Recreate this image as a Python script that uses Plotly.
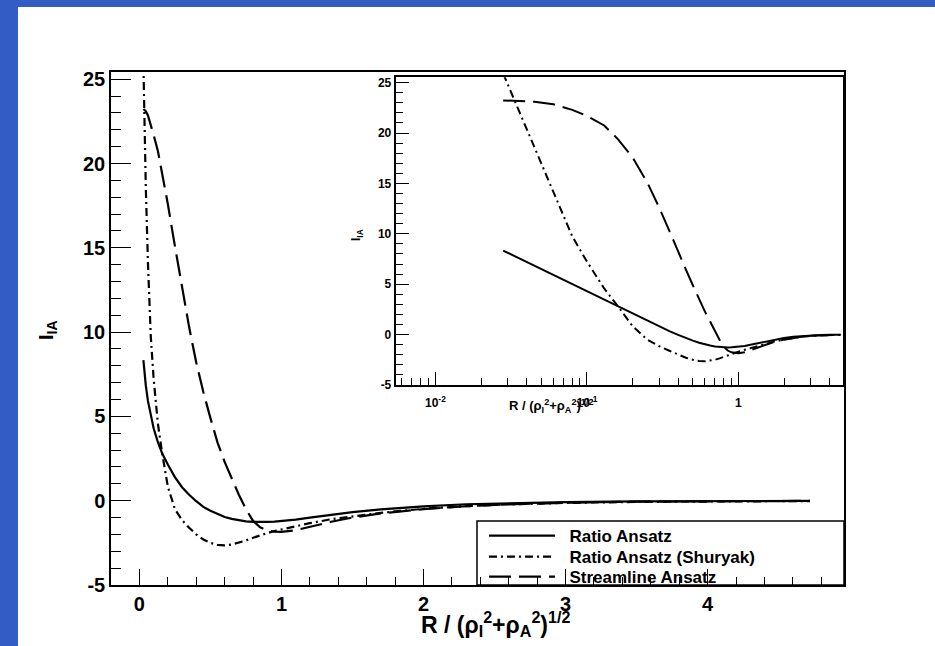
import plotly.graph_objects as go

# ---- data ----
r_vals = [0.028, 0.035, 0.045, 0.06, 0.08, 0.1, 0.13, 0.16, 0.2, 0.25, 0.3, 0.35, 0.4, 0.45,
          0.5, 0.55, 0.6, 0.65, 0.7, 0.75, 0.8, 0.85, 0.9, 0.95, 1.0, 1.1, 1.2, 1.35, 1.5,
          1.7, 2.0, 2.3, 2.6, 3.0, 3.5, 4.0, 4.72]
ratio_ansatz = [8.34, 7.63, 6.84, 5.92, 5.01, 4.30, 3.47, 2.81, 2.15, 1.40, 0.80, 0.35, -0.03, -0.37,
                -0.60, -0.80, -0.97, -1.08, -1.17, -1.23, -1.26, -1.27, -1.26, -1.24, -1.21, -1.12, -1.00, -0.84, -0.68,
                -0.52, -0.34, -0.21, -0.14, -0.08, -0.04, -0.02, -0.01]
ratio_shuryak = [25.9, 22.45, 18.6, 14.15, 9.75, 7.25, 4.58, 2.82, 0.84, -0.5, -1.15, -1.6, -2.0, -2.3,
                 -2.5, -2.62, -2.65, -2.6, -2.5, -2.36, -2.2, -2.05, -1.92, -1.8, -1.7, -1.5, -1.33, -1.1, -0.92,
                 -0.72, -0.48, -0.32, -0.22, -0.13, -0.07, -0.04, -0.02]
streamline = [23.24, 23.2, 23.1, 22.85, 22.3, 21.7, 20.75, 19.4, 17.6, 15.1, 12.6, 10.3, 8.2, 6.45,
              4.9, 3.45, 2.3, 1.3, 0.35, -0.5, -1.2, -1.58, -1.76, -1.84, -1.85, -1.75, -1.55, -1.25, -1.0,
              -0.75, -0.5, -0.33, -0.22, -0.12, -0.06, -0.03, -0.01]

series_names = ["Ratio Ansatz", "Ratio Ansatz (Shuryak)", "Streamline Ansatz"]
x_ticks = [0, 1, 2, 3, 4]
y_ticks = [-5, 0, 5, 10, 15, 20, 25]
log_ticks = [0.01, 0.1, 1]
log_tick_text = ["10<sup>-2</sup>", "10<sup>-1</sup>", "1"]

FONT = "Liberation Sans"
BLUE = "rgb(51,93,197)"
dashes = ["solid", "8px,4px,2px,4px", "22px,8px"]
series = [ratio_ansatz, ratio_shuryak, streamline]
legend_ids = ["legend", "legend2", "legend3"]

W, H = 935, 646
L, R, T, B = 111, 91, 72, 61
PW, PH = W - L - R, H - T - B

def px(x):
    return (x - L) / PW

def py(y):
    return (H - B - y) / PH

fig = go.Figure()
for name, ys, d, lg in zip(series_names, series, dashes, legend_ids):
    fig.add_trace(go.Scatter(x=r_vals, y=ys, mode="lines", name="\u00a0\u00a0" + name,
                             line=dict(color="black", width=2.2, dash=d),
                             xaxis="x", yaxis="y", showlegend=True, legend=lg))
for name, ys, d in zip(series_names, series, dashes):
    fig.add_trace(go.Scatter(x=r_vals, y=ys, mode="lines", name=name,
                             line=dict(color="black", width=2.0, dash=d),
                             xaxis="x2", yaxis="y2", showlegend=False))

tickfont_main = dict(family=FONT, size=20, color="black", weight="bold")
tickfont_in = dict(family=FONT, size=12, color="black", weight="bold")

x_minor = [round(-0.2 + 0.2 * i, 3) for i in range(26) if abs((-0.2 + 0.2 * i) - round(-0.2 + 0.2 * i)) > 1e-6]
y_minor = [v for v in range(-5, 26) if v % 5 != 0]
log_minor = [k * 10 ** e for e in (-3, -2, -1, 0) for k in range(2, 10) if 0.0055 <= k * 10 ** e <= 4.9]

def legend_at(ytop):
    return dict(x=px(484), y=py(ytop), xanchor="left", yanchor="top",
                bgcolor="rgba(0,0,0,0)", borderwidth=0, maxheight=80,
                font=dict(family=FONT, size=17, color="black", weight="bold"),
                itemwidth=66)

fig.update_layout(
    width=W, height=H,
    margin=dict(l=L, r=R, t=T, b=B, pad=0),
    paper_bgcolor=BLUE, plot_bgcolor="white",
    xaxis=dict(domain=[0, 1], range=[-0.2, 4.96], showgrid=False, zeroline=False,
               showline=True, linecolor="black", linewidth=1.5, mirror=True,
               tickmode="array", tickvals=x_ticks, ticktext=[str(v) for v in x_ticks],
               ticks="inside", ticklen=16, tickwidth=1.3, tickcolor="black",
               tickfont=tickfont_main,
               minor=dict(tickmode="array", tickvals=x_minor, ticks="inside", ticklen=8,
                          tickwidth=1.3, tickcolor="black", showgrid=False)),
    yaxis=dict(domain=[0, 1], range=[-5, 25.43], showgrid=False, zeroline=False,
               showline=True, linecolor="black", linewidth=1.5, mirror=True,
               tickmode="array", tickvals=y_ticks, ticktext=[str(v) for v in y_ticks],
               ticks="inside", ticklen=20, tickwidth=1.3, tickcolor="black",
               tickfont=tickfont_main,
               minor=dict(tickmode="array", tickvals=y_minor, ticks="inside", ticklen=10,
                          tickwidth=1.3, tickcolor="black", showgrid=False)),
    xaxis2=dict(domain=[px(395.7), px(843.3)], anchor="y2", type="log", range=[-2.262, 0.692],
                showgrid=False, zeroline=False,
                showline=True, linecolor="black", linewidth=2, mirror=True,
                tickmode="array", tickvals=log_ticks, ticktext=log_tick_text,
                ticks="inside", ticklen=13, tickwidth=1.2, tickcolor="black",
                tickfont=tickfont_in, ticklabelstandoff=6,
                minor=dict(tickmode="array", tickvals=log_minor, ticks="inside", ticklen=7,
                           tickwidth=1.2, tickcolor="black", showgrid=False)),
    yaxis2=dict(domain=[py(385), py(77.3)], anchor="x2", range=[-5, 25.53],
                showgrid=False, zeroline=False,
                showline=True, linecolor="black", linewidth=2, mirror=True,
                tickmode="array", tickvals=y_ticks, ticktext=[str(v) for v in y_ticks],
                ticks="inside", ticklen=13, tickwidth=1.2, tickcolor="black",
                tickfont=tickfont_in,
                minor=dict(tickmode="array", tickvals=y_minor, ticks="inside", ticklen=7,
                           tickwidth=1.2, tickcolor="black", showgrid=False)),
    legend=legend_at(518),
    legend2=legend_at(539),
    legend3=legend_at(559),
    showlegend=True,
)

fig.add_shape(type="rect", xref="paper", yref="paper",
              x0=px(18), x1=1.3, y0=-0.3, y1=py(7),
              fillcolor="white", line=dict(width=0), layer="below")
fig.add_shape(type="rect", xref="paper", yref="paper",
              x0=px(477), x1=1.0, y0=0.0, y1=py(521),
              fillcolor="rgba(0,0,0,0)", line=dict(color="black", width=1.5), layer="above")

xtitle = "R / (ρ<sub>I</sub><sup>2</sup>+ρ<sub>A</sub><sup>2</sup>)<sup>1/2</sup>"
ytitle = "I<sub>IA</sub>"
fig.add_annotation(x=px(495), y=py(624), xref="paper", yref="paper", text=xtitle, showarrow=False,
                   xanchor="center", yanchor="middle",
                   font=dict(family=FONT, size=23, color="black", weight="bold"))
fig.add_annotation(x=px(47), y=py(330), xref="paper", yref="paper", text=ytitle, showarrow=False,
                   textangle=-90, xanchor="center", yanchor="middle",
                   font=dict(family=FONT, size=20, color="black", weight="bold"))
fig.add_annotation(x=px(551), y=py(406), xref="paper", yref="paper", text=xtitle, showarrow=False,
                   xanchor="center", yanchor="middle",
                   font=dict(family=FONT, size=13, color="black", weight="bold"))
fig.add_annotation(x=px(357), y=py(235), xref="paper", yref="paper", text=ytitle, showarrow=False,
                   textangle=-90, xanchor="center", yanchor="middle",
                   font=dict(family=FONT, size=12, color="black", weight="bold"))

fig.write_html("out.html", config={"displayModeBar": False},
               post_script="document.body.style.margin='0';document.body.style.overflow='hidden';")
